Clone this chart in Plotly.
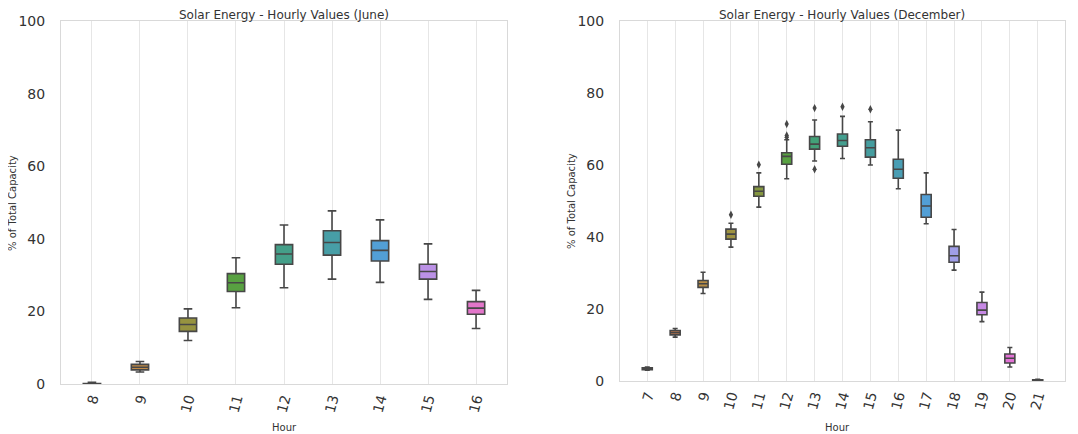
import math
import colorsys
import plotly.graph_objects as go

# ---------------- data ----------------
june_hours = ["8", "9", "10", "11", "12", "13", "14", "15", "16"]
june_q1 = [0.0, 3.9, 14.5, 25.5, 33.0, 35.5, 33.9, 28.9, 19.2]
june_median = [0.05, 4.6, 16.4, 27.9, 35.8, 39.0, 36.8, 31.0, 20.9]
june_q3 = [0.15, 5.4, 18.2, 30.4, 38.4, 42.2, 39.5, 33.0, 22.7]
june_low = [0.0, 3.3, 12.0, 21.0, 26.5, 28.9, 28.0, 23.3, 15.3]
june_high = [0.5, 6.2, 20.7, 34.8, 43.8, 47.7, 45.2, 38.6, 25.8]

dec_hours = ["7", "8", "9", "10", "11", "12", "13", "14", "15", "16", "17", "18", "19", "20", "21"]
dec_q1 = [3.15, 12.8, 26.0, 39.4, 51.3, 60.2, 64.4, 65.2, 62.2, 56.3, 45.5, 33.0, 18.4, 5.0, 0.0]
dec_median = [3.4, 13.4, 27.0, 40.8, 52.7, 62.4, 65.8, 66.8, 64.8, 58.8, 48.6, 34.8, 19.7, 6.3, 0.1]
dec_q3 = [3.7, 14.0, 27.9, 42.2, 54.0, 63.4, 67.9, 68.6, 67.0, 61.6, 51.8, 37.4, 21.8, 7.5, 0.3]
dec_low = [3.0, 12.2, 24.3, 37.2, 48.3, 56.2, 61.1, 61.8, 60.0, 53.4, 43.7, 30.8, 16.5, 3.9, 0.0]
dec_high = [3.9, 14.6, 30.2, 43.8, 57.8, 67.0, 72.5, 73.5, 72.0, 69.7, 57.8, 42.1, 24.7, 9.3, 0.5]

dec_outlier_hours = ["10", "11", "12", "12", "12", "13", "13", "14", "15"]
dec_outlier_values = [46.2, 60.1, 71.4, 68.2, 67.7, 75.8, 58.8, 76.2, 75.5]

# ---------------- colours (seaborn husl palette, desaturated) ----------------
_M = [[3.2406, -1.5372, -0.4986], [-0.9689, 1.8758, 0.0415], [0.0557, -0.2040, 1.0570]]
_REF_U, _REF_V = 0.19784, 0.46834


def _max_chroma(L, H):
    hrad = math.radians(H)
    sinH, cosH = math.sin(hrad), math.cos(hrad)
    sub1 = (L + 16) ** 3 / 1560896.0
    sub2 = sub1 if sub1 > 0.008856 else L / 903.3
    result = float("inf")
    for m1, m2, m3 in _M:
        top = (0.99915 * m1 + 1.05122 * m2 + 1.14460 * m3) * sub2
        rbottom = 0.86330 * m3 - 0.17266 * m2
        lbottom = 0.12949 * m3 - 0.38848 * m1
        bottom = (rbottom * sinH + lbottom * cosH) * sub2
        for t in (0.0, 1.0):
            C = L * (top - 1.05122 * t) / (bottom + 0.17266 * sinH * t)
            if 0.0 < C < result:
                result = C
    return result


def _husl_to_rgb(H, S, L):
    C = _max_chroma(L, H) / 100.0 * S
    hrad = math.radians(H)
    U, V = math.cos(hrad) * C, math.sin(hrad) * C
    t = (L + 16.0) / 116.0
    varY = t ** 3 if t ** 3 > 0.008856 else (116.0 * t - 16.0) / 903.3
    varU = U / (13.0 * L) + _REF_U
    varV = V / (13.0 * L) + _REF_V
    Y = varY
    X = 0.0 - (9.0 * Y * varU) / ((varU - 4.0) * varV - varU * varV)
    Z = (9.0 * Y - (15.0 * varV * Y) - (varV * X)) / (3.0 * varV)
    out = []
    for row in _M:
        c = row[0] * X + row[1] * Y + row[2] * Z
        c = 12.92 * c if c <= 0.0031308 else 1.055 * c ** (1 / 2.4) - 0.055
        out.append(min(max(c, 0.0), 1.0))
    return out


def palette(n, sat=0.75):
    cols = []
    for i in range(n):
        h = ((i / n) + 0.01) % 1 * 359
        r, g, b = _husl_to_rgb(h, 0.9 * 99, 0.65 * 99)
        hh, ll, ss = colorsys.rgb_to_hls(r, g, b)
        r, g, b = colorsys.hls_to_rgb(hh, ll, ss * sat)
        cols.append("rgb(%d,%d,%d)" % (round(r * 255), round(g * 255), round(b * 255)))
    return cols


EDGE = "#474747"
fig = go.Figure()


def add_boxes(hours, q1, med, q3, lo, hi, xa, ya):
    cols = palette(len(hours))
    for i, h in enumerate(hours):
        fig.add_trace(go.Box(
            x=[h], q1=[q1[i]], median=[med[i]], q3=[q3[i]],
            lowerfence=[lo[i]], upperfence=[hi[i]],
            width=0.36, whiskerwidth=0.5, boxpoints=False,
            fillcolor=cols[i], line=dict(color=EDGE, width=1.6),
            xaxis=xa, yaxis=ya, showlegend=False,
        ))


add_boxes(june_hours, june_q1, june_median, june_q3, june_low, june_high, "x", "y")
add_boxes(dec_hours, dec_q1, dec_median, dec_q3, dec_low, dec_high, "x2", "y2")

fig.add_trace(go.Scatter(
    x=dec_outlier_hours, y=dec_outlier_values, mode="markers",
    marker=dict(symbol="diamond-tall", size=6, color=EDGE),
    xaxis="x2", yaxis="y2", showlegend=False,
))

# the page body adds an 8px offset; work in window pixels
OFF = 8
W, H = 1078 - OFF, 434 - OFF
FONT = "DejaVu Sans"
TXT = "#333333"


def px(v):
    return (v - OFF) / W


def py(v):
    return 1 - (v - OFF) / H


xcommon = dict(type="category", showgrid=True, gridcolor="#e6e6e6", gridwidth=1,
               showline=True, linecolor="#d9d9d9", linewidth=1, mirror=True,
               tickangle=-75, tickfont=dict(family=FONT, size=14, color=TXT),
               ticks="", zeroline=False, automargin=False)
ycommon = dict(range=[0, 100], tickvals=[0, 20, 40, 60, 80, 100], showgrid=False,
               showline=True, linecolor="#d9d9d9", linewidth=1, mirror=True,
               tickfont=dict(family=FONT, size=14, color=TXT), ticks="",
               ticklabelstandoff=12, zeroline=False, automargin=False)


def note(text, x, y, size, angle=0):
    return dict(text=text, x=px(x), y=py(y), xref="paper", yref="paper",
                xanchor="center", yanchor="middle", showarrow=False,
                textangle=angle, font=dict(family=FONT, size=size, color=TXT))


fig.update_layout(
    width=W, height=H,
    margin=dict(l=0, r=0, t=0, b=0),
    paper_bgcolor="white", plot_bgcolor="white",
    boxmode="overlay",
    xaxis=dict(xcommon, domain=[px(61), px(507)], categoryorder="array",
               categoryarray=june_hours, anchor="y"),
    yaxis=dict(ycommon, domain=[py(384), py(21)], anchor="x"),
    xaxis2=dict(xcommon, domain=[px(620), px(1065)], categoryorder="array",
                categoryarray=dec_hours, anchor="y2"),
    yaxis2=dict(ycommon, domain=[py(381), py(21)], anchor="x2"),
    annotations=[
        note("Solar Energy - Hourly Values (June)", 284, 15, 12),
        note("Solar Energy - Hourly Values (December)", 842, 15, 12),
        note("Hour", 284, 427, 10),
        note("Hour", 837, 427, 10),
        note("% of Total Capacity", 12, 203, 10, -90),
        note("% of Total Capacity", 571, 201, 10, -90),
    ],
)

fig.write_html("out.html")
